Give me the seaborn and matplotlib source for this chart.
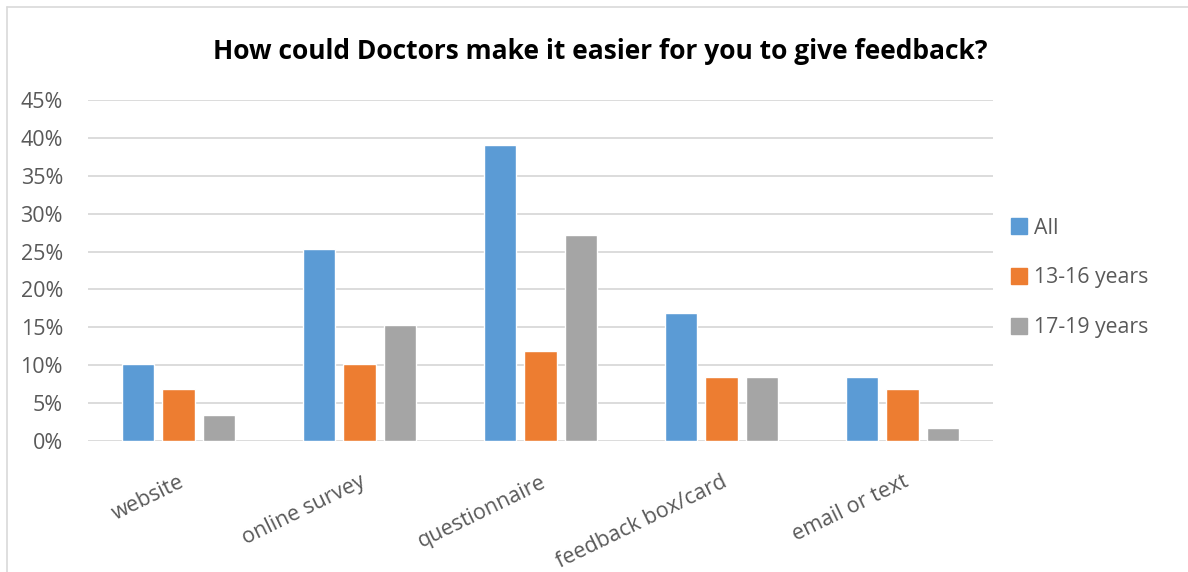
import numpy as np
import pandas as pd
import seaborn as sns
from matplotlib import pyplot as plt
from matplotlib.ticker import PercentFormatter
from matplotlib.lines import Line2D

categories = ["website", "online survey", "questionnaire", "feedback box/card", "email or text"]
groups = ["All", "13-16 years", "17-19 years"]
all_vals = [10.2, 25.4, 39.0, 16.9, 8.5]
young_vals = [6.8, 10.2, 11.9, 8.5, 6.8]
older_vals = [3.4, 15.3, 27.2, 8.5, 1.7]
colors = ["#5B9BD5", "#ED7D31", "#A5A5A5"]

rows = []
for g, vals in zip(groups, [all_vals, young_vals, older_vals]):
    for c, v in zip(categories, vals):
        rows.append({"category": c, "group": g, "value": v})
df = pd.DataFrame(rows)

sns.set_style("white")
plt.rcParams['font.family'] = ['Open Sans', 'DejaVu Sans']

fig = plt.figure(figsize=(11.88, 5.72), dpi=100)
ax = fig.add_axes([88 / 1188, 1 - 441 / 572, (993 - 88) / 1188, (441 - 100) / 572])

sns.barplot(data=df, x="category", y="value", hue="group", palette=colors, saturation=1,
            width=0.663, gap=0.2, ax=ax, legend=False, zorder=3)

ax.set_ylim(0, 45)
ax.set_xlim(-0.5, 4.5)
ax.set_yticks(np.arange(0, 46, 5))
ax.yaxis.set_major_formatter(PercentFormatter(decimals=0))
ax.grid(axis="y", color="#D9D9D9", linewidth=1.3, zorder=0)
ax.set_axisbelow(True)
for s in ax.spines.values():
    s.set_visible(False)
ax.set_xlabel("")
ax.set_ylabel("")
ax.tick_params(axis="both", length=0, labelsize=15.5, labelcolor="#595959")
ax.tick_params(axis="y", pad=18)
plt.setp(ax.get_xticklabels(), rotation=26, ha="right", rotation_mode="anchor")
ax.tick_params(axis="x", pad=22)

fig.text(0.505, 0.91, "How could Doctors make it easier for you to give feedback?",
         ha="center", va="center", fontsize=19, fontweight="bold", color="black")

handles = [Line2D([0], [0], marker="s", linestyle="", markersize=11,
                  markerfacecolor=c, markeredgecolor=c) for c in colors]
fig.legend(handles, groups, loc="center left", bbox_to_anchor=(1000 / 1188, 1 - 278 / 572),
           frameon=False, fontsize=15.3, labelcolor="#595959", labelspacing=1.35,
           handletextpad=0.2, handlelength=1.0, borderaxespad=0)

# chart frame (left and top edges visible)
fig.add_artist(Line2D([7 / 1188, 7 / 1188], [0, 1 - 7 / 572], color="#D9D9D9", linewidth=1.2))
fig.add_artist(Line2D([7 / 1188, 1], [1 - 7 / 572, 1 - 7 / 572], color="#D9D9D9", linewidth=1.2))

plt.savefig("out.png", dpi=100)
